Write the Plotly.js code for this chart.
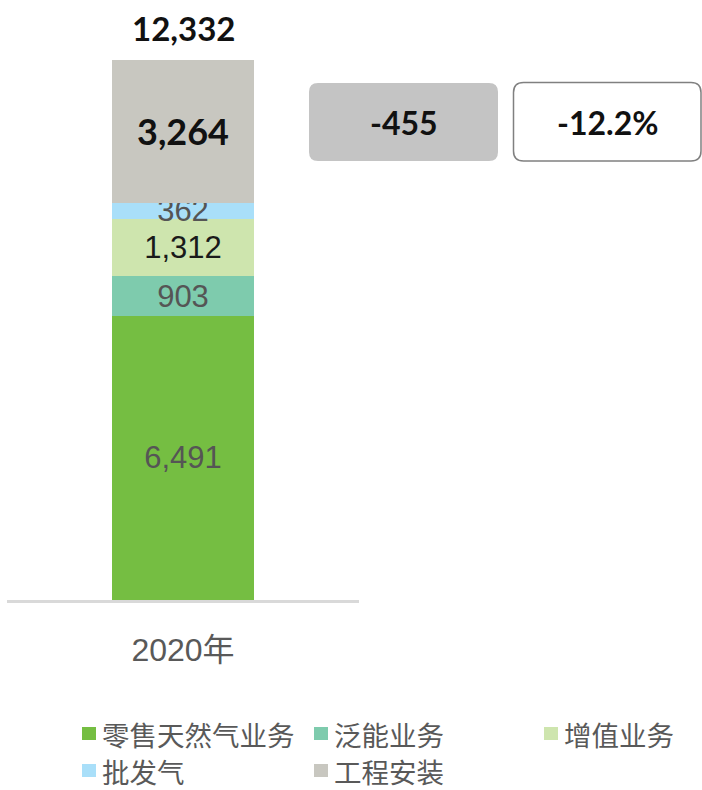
<!DOCTYPE html>
<html>
<head>
<meta charset="utf-8">
<script src="https://cdn.plot.ly/plotly-3.0.1.min.js"></script>
<style>html,body{margin:0;padding:0;background:#fff;}#chart{width:702px;height:790px;}</style>
</head>
<body>
<div id="chart"></div>
<script>
// ---- data ----
const categories = ['2020年'];
const seriesNames = ['零售天然气业务', '泛能业务', '增值业务', '批发气', '工程安装'];
const retailGas = [6491];
const panEnergy = [903];
const valueAdded = [1312];
const wholesaleGas = [362];
const engineering = [3264];
const changeAbs = [-455];
const changePct = [-12.2];

const seriesValues = [retailGas, panEnergy, valueAdded, wholesaleGas, engineering];
const totals = categories.map((c, i) => seriesValues.reduce((s, arr) => s + arr[i], 0));

// ---- styles ----
const colors = ['#75BE42', '#7ECBAD', '#CEE5AE', '#A9DFF9', '#C8C7C0'];
const labelFonts = [
  {family: 'Liberation Sans, Arial, sans-serif', size: 31, color: '#555555'},
  {family: 'Liberation Sans, Arial, sans-serif', size: 31, color: '#555555'},
  {family: 'Liberation Sans, Arial, sans-serif', size: 31, color: '#1a1a1a'},
  {family: 'Liberation Sans, Arial, sans-serif', size: 31, color: '#555555'},
  {family: 'Lato, sans-serif', size: 36, color: '#111111', weight: 'bold'}
];

const W = 702, H = 790;
const L = 7, R = 343, T = 10, B = 190;
const pw = W - L - R, ph = H - T - B;
const X = px => (px - L) / pw;
const Y = py => (H - B - py) / ph;
const yMax = ph * totals[0] / 540;

const traces = seriesNames.map((name, k) => ({
  type: 'bar',
  name: name,
  x: categories,
  y: seriesValues[k],
  width: 0.403,
  marker: {color: colors[k], line: {width: 0}},
  texttemplate: '%{y:,}',
  textposition: 'inside',
  insidetextanchor: 'middle',
  constraintext: 'none',
  textangle: 0,
  textfont: labelFonts[k],
  insidetextfont: labelFonts[k],
  hoverinfo: 'skip',
  showlegend: false
}));

function rr(x0, y0, x1, y1, r) {
  return 'M' + X(x0 + r) + ',' + Y(y0) +
    ' L' + X(x1 - r) + ',' + Y(y0) +
    ' Q' + X(x1) + ',' + Y(y0) + ' ' + X(x1) + ',' + Y(y0 + r) +
    ' L' + X(x1) + ',' + Y(y1 - r) +
    ' Q' + X(x1) + ',' + Y(y1) + ' ' + X(x1 - r) + ',' + Y(y1) +
    ' L' + X(x0 + r) + ',' + Y(y1) +
    ' Q' + X(x0) + ',' + Y(y1) + ' ' + X(x0) + ',' + Y(y1 - r) +
    ' L' + X(x0) + ',' + Y(y0 + r) +
    ' Q' + X(x0) + ',' + Y(y0) + ' ' + X(x0 + r) + ',' + Y(y0) + ' Z';
}

const shapes = [
  {type: 'path', xref: 'paper', yref: 'paper', path: rr(309, 83, 498, 161, 9), fillcolor: '#C4C4C4', line: {width: 0}},
  {type: 'path', xref: 'paper', yref: 'paper', path: rr(513.5, 82.5, 701, 161, 10), fillcolor: '#FFFFFF', line: {color: '#808080', width: 1.5}}
];

const boldFont = {family: 'Lato, sans-serif', size: 32, color: '#111111', weight: 'bold'};
const annotations = [
  {xref: 'x', yref: 'y', x: categories[0], y: totals[0], yanchor: 'middle', xanchor: 'center',
   yshift: 32, text: totals[0].toLocaleString('en-US'), showarrow: false,
   font: {family: 'Lato, sans-serif', size: 33, color: '#111111', weight: 'bold'}},
  {xref: 'paper', yref: 'paper', x: X(403.5), y: Y(123), xanchor: 'center', yanchor: 'middle',
   text: String(changeAbs[0]), showarrow: false, font: boldFont},
  {xref: 'paper', yref: 'paper', x: X(607), y: Y(123), xanchor: 'center', yanchor: 'middle',
   text: changePct[0].toFixed(1) + '%', showarrow: false, font: boldFont}
];

// legend (custom layout: 3 columns, 2 rows)
const legCols = [82, 314, 544];
const legRows = [734, 771];
const legendSlots = [[0, 0], [0, 1], [0, 2], [1, 0], [1, 1]];
seriesNames.forEach((name, k) => {
  const [r, c] = legendSlots[k];
  const sx = legCols[c], sy = legRows[r];
  shapes.push({type: 'rect', xref: 'paper', yref: 'paper',
    x0: X(sx), x1: X(sx + 14), y0: Y(sy - 7), y1: Y(sy + 6),
    fillcolor: colors[k], line: {width: 0}});
  annotations.push({xref: 'paper', yref: 'paper', x: X(sx + 19), y: Y(sy), xanchor: 'left', yanchor: 'middle',
    text: name, showarrow: false, borderpad: 0,
    font: {family: 'Noto Sans CJK SC, sans-serif', size: 27.5, color: '#595959'}});
});

const layout = {
  width: W, height: H,
  margin: {l: L, r: R, t: T, b: B, pad: 0},
  paper_bgcolor: '#ffffff', plot_bgcolor: '#ffffff',
  barmode: 'stack',
  showlegend: false,
  xaxis: {
    type: 'category', range: [-0.5, 0.5],
    showline: true, linecolor: '#D9D9D9', linewidth: 3,
    ticks: '', showgrid: false, zeroline: false,
    tickfont: {family: 'Liberation Sans, Noto Sans CJK SC, sans-serif', size: 32, color: '#595959'},
    ticklabelstandoff: 20,
    fixedrange: true
  },
  yaxis: {visible: false, range: [0, yMax], showgrid: false, zeroline: false, fixedrange: true},
  shapes: shapes,
  annotations: annotations
};

Plotly.newPlot('chart', traces, layout, {displayModeBar: false, staticPlot: true});
</script>
</body>
</html>
